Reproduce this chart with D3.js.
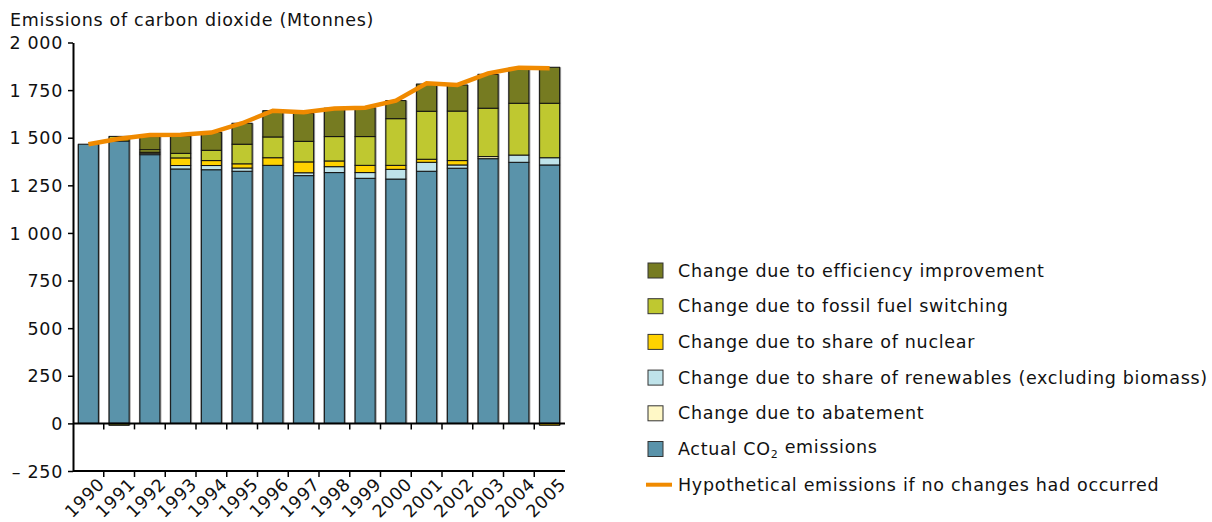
<!DOCTYPE html>
<html>
<head>
<meta charset="utf-8">
<script src="https://cdn.jsdelivr.net/npm/d3@7"></script>
<style>
  body { margin: 0; background: #fff; }
  svg { font-family: "DejaVu Sans", Verdana, sans-serif; }
  svg text { letter-spacing: 0.7px; }
</style>
</head>
<body>
<svg id="chart" width="1212" height="522"></svg>
<script>
// data (Mtonnes)
var years = ["1990","1991","1992","1993","1994","1995","1996","1997","1998","1999","2000","2001","2002","2003","2004","2005"];
var actual      = [1466, 1483, 1411, 1336, 1332, 1324, 1355, 1301, 1317, 1287, 1283, 1324, 1340, 1390, 1371, 1357];
var abatement   = [0, 0, 0, 0, 0, 0, 0, 0, 0, 0, 0, 0, 0, 11, 0, 0];
var renewables  = [0, 0, 8, 18, 22, 17, 0, 15, 31, 30, 51, 47, 17, 0, 38, 38];
var nuclear     = [0, 8, 6, 40, 26, 22, 40, 57, 30, 38, 21, 16, 23, 0, 0, -10];
var fuelSwitch  = [0, 16, 12, 24, 54, 103, 109, 108, 128, 151, 245, 252, 260, 254, 272, 286];
var efficiency  = [0, -10, 69, 91, 95, 110, 138, 147, 149, 152, 95, 143, 137, 178, 184, 189];
var hypothetical = [1466, 1495, 1514, 1516, 1527, 1576, 1642, 1634, 1654, 1658, 1695, 1786, 1777, 1838, 1868, 1865];
var yTicks = [-250, 0, 250, 500, 750, 1000, 1250, 1500, 1750, 2000];

// bottom to top
var series = [
  { key: "actual", values: actual, color: "#5a93aa" },
  { key: "abatement", values: abatement, color: "#fff8c6" },
  { key: "renewables", values: renewables, color: "#bfe3ea" },
  { key: "nuclear", values: nuclear, color: "#ffd200" },
  { key: "fuel", values: fuelSwitch, color: "#bfc830" },
  { key: "efficiency", values: efficiency, color: "#767b21" }
];

var legendItems = [
  { label: "Change due to efficiency improvement", color: "#767b21" },
  { label: "Change due to fossil fuel switching", color: "#bfc830" },
  { label: "Change due to share of nuclear", color: "#ffd200" },
  { label: "Change due to share of renewables (excluding biomass)", color: "#bfe3ea" },
  { label: "Change due to abatement", color: "#fff8c6" },
  { label: "Actual CO2 emissions", color: "#5a93aa", sub: true },
  { label: "Hypothetical emissions if no changes had occurred", line: true }
];

var svg = d3.select("#chart");
var plotLeft = 73, plotRight = 565, plotTop = 42.5, plotBottom = 471;
var fontSize = 17.5;
var font = "DejaVu Sans, Verdana, sans-serif";

var x = d3.scaleBand().domain(years).range([plotLeft, plotRight]).paddingInner(0.35).paddingOuter(0.175);
var y = d3.scaleLinear().domain([-250, 2000]).range([plotBottom, plotTop]);

function fmt(v) {
  var s = d3.format(",")(Math.abs(v)).replace(/,/g, " ");
  return v < 0 ? "\u2013 " + s : s;
}

// title
svg.append("text")
  .attr("x", 10).attr("y", 26)
  .style("font-size", fontSize + "px")
  .attr("fill", "#111")
  .text("Emissions of carbon dioxide (Mtonnes)");

// stack: positives up from 0, negatives down from 0
var posBase = years.map(function() { return 0; });
var negBase = years.map(function() { return 0; });
var segs = [];
series.forEach(function(s) {
  s.values.forEach(function(v, i) {
    if (v === 0) return;
    var y0, y1;
    if (v > 0) { y0 = posBase[i]; y1 = y0 + v; posBase[i] = y1; }
    else { y0 = negBase[i]; y1 = y0 + v; negBase[i] = y1; }
    segs.push({ year: years[i], y0: y0, y1: y1, color: s.color });
  });
});

var bw = x.bandwidth();
var bars = svg.append("g");
// soft shadow to the sides of each bar
bars.selectAll("rect.shadow")
  .data(years)
  .enter().append("rect")
  .attr("class", "shadow")
  .attr("x", function(d) { return x(d) - 1; })
  .attr("width", bw + 2.5)
  .attr("y", function(d, i) { return y(posBase[i]); })
  .attr("height", function(d, i) { return y(negBase[i]) - y(posBase[i]); })
  .attr("fill", "#9a9a9a");

bars.selectAll("rect.seg")
  .data(segs)
  .enter().append("rect")
  .attr("class", "seg")
  .attr("x", function(d) { return x(d.year); })
  .attr("width", bw)
  .attr("y", function(d) { return y(Math.max(d.y0, d.y1)); })
  .attr("height", function(d) { return Math.abs(y(d.y0) - y(d.y1)); })
  .attr("fill", function(d) { return d.color; })
  .attr("stroke", "#111")
  .attr("stroke-width", 1);

// y axis
var yAxis = svg.append("g")
  .attr("transform", "translate(" + plotLeft + ",0)")
  .call(d3.axisLeft(y).tickValues(yTicks).tickFormat(fmt).tickSize(5).tickSizeOuter(0));
yAxis.select(".domain").attr("stroke", "#000").attr("stroke-width", 2);
yAxis.selectAll(".tick line").attr("stroke", "#000").attr("stroke-width", 1.5);
yAxis.selectAll(".tick text")
  .attr("x", -10).attr("dy", "0.35em")
  .style("font-size", fontSize + "px").style("font-family", font)
  .attr("fill", "#111");

// band boundaries for ticks
var boundaries = years.slice(1).map(function(d) { return x(d) - x.step() * x.paddingInner() / 2; });

// zero line with ticks
var zeroG = svg.append("g");
zeroG.append("line")
  .attr("x1", plotLeft).attr("x2", plotRight)
  .attr("y1", y(0)).attr("y2", y(0))
  .attr("stroke", "#000").attr("stroke-width", 2);
zeroG.selectAll("line.t")
  .data(boundaries)
  .enter().append("line")
  .attr("class", "t")
  .attr("x1", function(d) { return d; }).attr("x2", function(d) { return d; })
  .attr("y1", y(0)).attr("y2", y(0) + 6)
  .attr("stroke", "#000").attr("stroke-width", 1.5);

// bottom axis
var xAxis = svg.append("g")
  .attr("transform", "translate(0," + plotBottom + ")")
  .call(d3.axisBottom(x).tickSize(0).tickSizeOuter(0));
xAxis.select(".domain").remove();
xAxis.append("line")
  .attr("x1", plotLeft).attr("x2", plotRight)
  .attr("stroke", "#000").attr("stroke-width", 2);
xAxis.selectAll("line.t")
  .data(boundaries)
  .enter().append("line")
  .attr("class", "t")
  .attr("x1", function(d) { return d; }).attr("x2", function(d) { return d; })
  .attr("y1", 0).attr("y2", 6)
  .attr("stroke", "#000").attr("stroke-width", 1.5);
xAxis.selectAll(".tick text")
  .attr("text-anchor", "end")
  .attr("y", 0).attr("dy", "0.35em")
  .attr("transform", "translate(" + (bw / 2 + 3) + ",10) rotate(-45)")
  .style("font-size", fontSize + "px").style("font-family", font)
  .attr("fill", "#111");

// hypothetical line
var line = d3.line()
  .x(function(d, i) { return x(years[i]) + bw / 2; })
  .y(function(d) { return y(d); });
svg.append("path")
  .datum(hypothetical)
  .attr("d", line)
  .attr("fill", "none")
  .attr("stroke", "#f08a00")
  .attr("stroke-width", 4.5);

// legend
var lg = svg.append("g").attr("transform", "translate(648,0)");
var item = lg.selectAll("g.item")
  .data(legendItems)
  .enter().append("g")
  .attr("class", "item")
  .attr("transform", function(d, i) { return "translate(0," + (270.5 + i * 35.7) + ")"; });

item.filter(function(d) { return !d.line; })
  .append("rect")
  .attr("x", 0).attr("y", -7.5)
  .attr("width", 15).attr("height", 15)
  .attr("fill", function(d) { return d.color; })
  .attr("stroke", "#333").attr("stroke-width", 1);

item.filter(function(d) { return d.line; })
  .append("line")
  .attr("x1", -2).attr("x2", 24)
  .attr("stroke", "#f08a00").attr("stroke-width", 4);

var lt = item.append("text")
  .attr("x", 30).attr("dy", "0.35em")
  .style("font-size", fontSize + "px")
  .attr("fill", "#111");
lt.filter(function(d) { return !d.sub; }).text(function(d) { return d.label; });
lt.filter(function(d) { return d.sub; }).each(function() {
  var t = d3.select(this);
  t.append("tspan").text("Actual CO");
  t.append("tspan").attr("dy", "0.3em").style("font-size", "11px").text("2");
  t.append("tspan").attr("dy", "-0.3em").text(" emissions");
});
</script>
</body>
</html>
